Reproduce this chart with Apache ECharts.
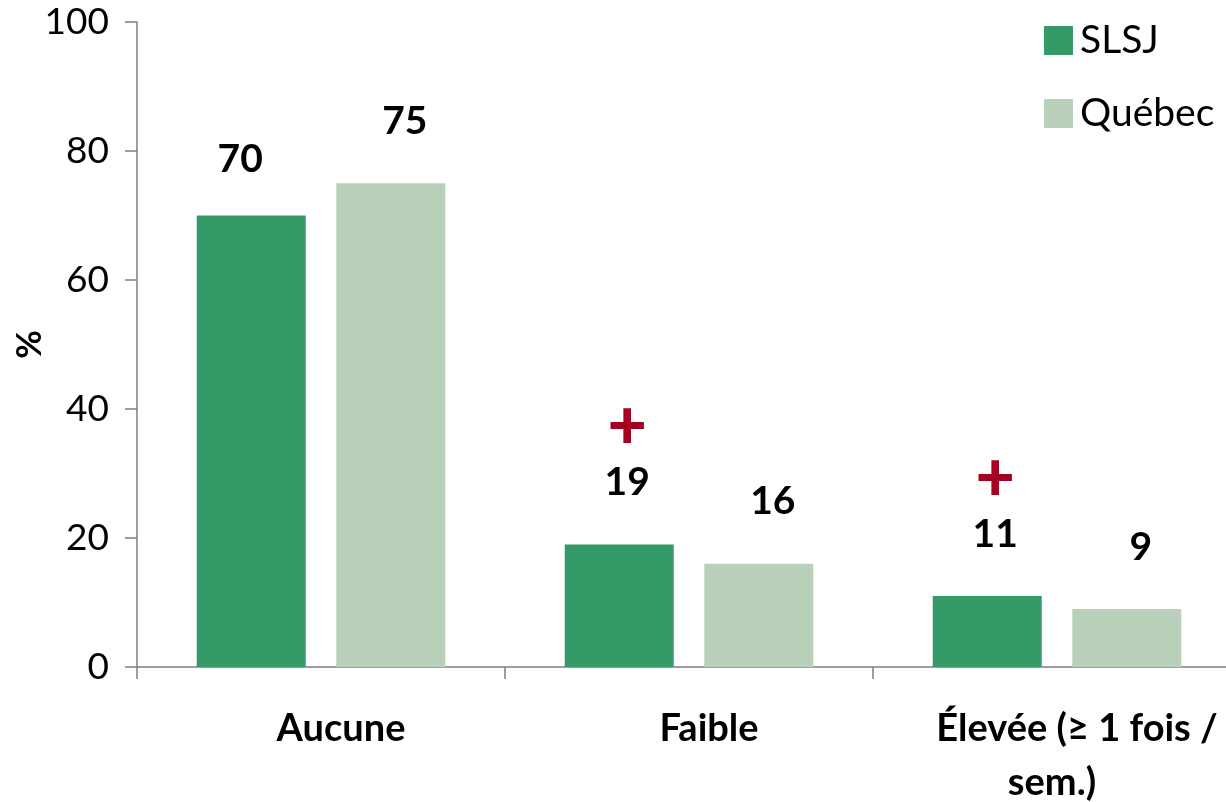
<!DOCTYPE html>
<html>
<head>
<meta charset="utf-8">
<script src="https://cdn.jsdelivr.net/npm/echarts@6/dist/echarts.min.js"></script>
<style>
  html, body { margin: 0; padding: 0; background: #fff; }
  #chart { width: 1226px; height: 802px; }
</style>
</head>
<body>
<div id="chart"></div>
<script>
// Fréquence par catégorie, SLSJ vs ensemble du Québec (%)
const categories = ['Aucune', 'Faible', 'Élevée (≥ 1 fois /\nsem.)'];
const seriesNames = ['SLSJ', 'Québec'];
const slsjValues = [70, 19, 11];
const quebecValues = [75, 16, 9];
// Écart significatif avec le Québec (marqué d'un +)
const slsjSignificant = [false, true, true];
const yTicks = { min: 0, max: 100, interval: 20 };

const FONT = 'Lato';
const chart = echarts.init(document.getElementById('chart'), null, { renderer: 'canvas' });

const valueRich = {
  v: { fontFamily: FONT, fontWeight: 'bold', fontSize: 39, color: '#000', lineHeight: 40 },
  plus: { fontFamily: FONT, fontWeight: 900, fontSize: 68, color: '#A50021', lineHeight: 70 }
};

const catStyle = { fontFamily: FONT, fontWeight: 'bold', fontSize: 38, color: '#000', lineHeight: 54 };

// Décalage des étiquettes de valeur (placement manuel des étiquettes)
const slsjLabelOffset = (i) => (i === 0 ? [-11, 6] : [8, 0]);
const quebecLabelOffset = [14, 0];

chart.setOption({
  animation: false,
  backgroundColor: '#fff',
  grid: {
    left: 137, width: 1104, top: 22, bottom: 135,
    containLabel: false,
    outerBoundsMode: 'none'
  },
  legend: {
    orient: 'vertical',
    left: 1039,
    top: 16,
    itemWidth: 29,
    itemHeight: 29,
    itemGap: 34,
    icon: 'rect',
    textStyle: { fontFamily: FONT, fontSize: 39, color: '#000', padding: [0, 0, 0, 2] },
    data: seriesNames
  },
  xAxis: {
    type: 'category',
    data: categories,
    axisLine: { lineStyle: { color: '#7f7f7f', width: 1.5 } },
    axisTick: { show: true, length: 12, interval: 0, lineStyle: { color: '#7f7f7f', width: 1.5 } },
    axisLabel: {
      interval: 0,
      margin: 35,
      align: 'center',
      hideOverlap: false,
      formatter: (val) => {
        const lines = val.split('\n');
        return lines.map((l, i) => (i === 0 ? '{first|' : '{next|') + l + '}').join('\n');
      },
      rich: {
        first: Object.assign({ padding: [0, 0, 0, 40] }, catStyle),
        next: Object.assign({ padding: [0, 10, 0, 0] }, catStyle)
      },
      ...catStyle
    }
  },
  yAxis: {
    type: 'value',
    min: yTicks.min,
    max: yTicks.max,
    interval: yTicks.interval,
    name: '%',
    nameLocation: 'middle',
    nameGap: 90,
    nameMoveOverlap: false,
    nameRotate: 90,
    nameTextStyle: { fontFamily: FONT, fontWeight: 'bold', fontSize: 35, color: '#000' },
    axisLine: { show: true, lineStyle: { color: '#7f7f7f', width: 1.5 } },
    axisTick: { show: true, length: 12, lineStyle: { color: '#7f7f7f', width: 1.5 } },
    splitLine: { show: false },
    axisLabel: { margin: 28, fontFamily: FONT, fontSize: 37, color: '#000' }
  },
  series: [
    {
      name: seriesNames[0],
      type: 'bar',
      data: slsjValues.map((v, i) => ({ value: v, label: { offset: slsjLabelOffset(i) } })),
      barWidth: 109,
      barGap: '28%',
      itemStyle: { color: '#349A67' },
      label: {
        show: true,
        position: 'top',
        distance: 42,
        formatter: (p) => (slsjSignificant[p.dataIndex] ? '{plus|+}\n' : '') + '{v|' + p.value + '}',
        rich: valueRich
      }
    },
    {
      name: seriesNames[1],
      type: 'bar',
      data: quebecValues,
      barWidth: 109,
      itemStyle: { color: '#B9D1BA' },
      label: {
        show: true,
        position: 'top',
        distance: 42,
        offset: quebecLabelOffset,
        formatter: (p) => '{v|' + p.value + '}',
        rich: valueRich
      }
    }
  ]
});
</script>
</body>
</html>
